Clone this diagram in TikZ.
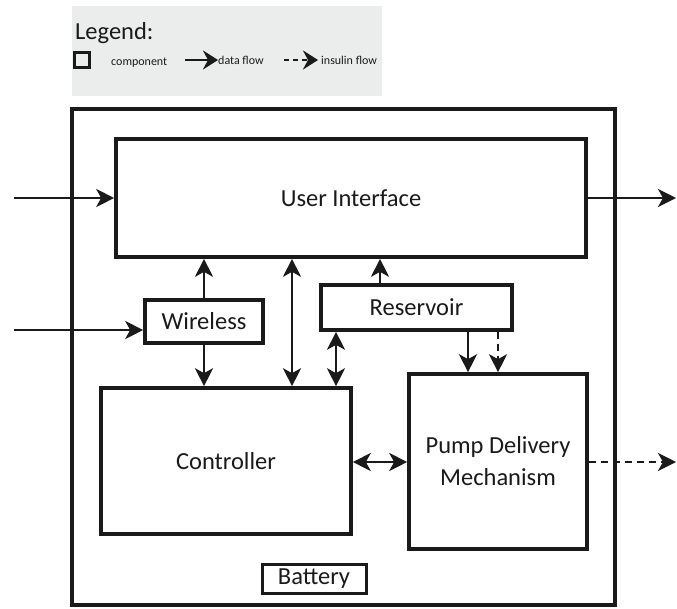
\documentclass[tikz,border=0pt]{standalone}
\usepackage{fontspec}
\setmainfont{Carlito}
\usetikzlibrary{arrows.meta,calc}
\definecolor{legendgray}{RGB}{235,237,237}
\definecolor{ink}{RGB}{26,26,26}
\begin{document}
\begin{tikzpicture}[x=1pt,y=-1pt,
  box/.style={draw=ink, line width=3.6pt, rectangle, inner sep=0pt, fill=white},
  bigtxt/.style={font=\fontsize{24.5}{29}\selectfont, text=ink},
  smalltxt/.style={font=\fontsize{12}{14}\selectfont, text=ink},
  tip/.tip={Stealth[length=18pt,width=18pt,inset=5pt]},
  flow/.style={draw=ink, line width=2.2pt, -tip},
  biflow/.style={draw=ink, line width=2.2pt, tip-tip},
  insflow/.style={flow, dash pattern=on 7pt off 5pt},
  legarrow/.style={draw=ink, line width=2.4pt, -{Stealth[length=15pt,width=19pt,inset=5pt]}}
]
\useasboundingbox (0,0) rectangle (677,608);

% legend
\fill[legendgray] (72,6) rectangle (382,96);
\node[bigtxt, anchor=base west, inner sep=0pt] (legtitle) at (75,39) {Legend:};
\node[draw=ink, line width=2.2pt, minimum width=15pt, minimum height=15pt, inner sep=0pt] (legbox) at (82,60) {};
\node[smalltxt, anchor=base west, inner sep=0pt] (legcomp) at (111,65) {component};
\coordinate (ldstart) at (185,60);
\node[smalltxt, anchor=base west, inner sep=0pt] (legdata) at (218,64) {data flow};
\draw[legarrow] (ldstart) -- (ldstart -| legdata.west);
\coordinate (listart) at (284,60);
\node[smalltxt, anchor=base west, inner sep=0pt] (legins) at (321,64) {insulin flow};
\draw[legarrow, dash pattern=on 5pt off 4pt, shorten >=3pt] (listart) -- (listart -| legins.west);

% outer box
\node[box, line width=3.8pt, fill=none, minimum width=543pt, minimum height=496pt] (outer) at (343.5,357) {};

% components
\node[box, minimum width=470pt, minimum height=118pt,
  label={[bigtxt, anchor=base, inner sep=0pt]center:User Interface}] (ui) at (351,198) {};
\node[box, minimum width=118pt, minimum height=43pt, bigtxt] (wl) at (204,321.5) {Wireless};
\node[box, minimum width=191pt, minimum height=45pt, bigtxt] (res) at (416.5,307.5) {Reservoir};
\node[box, minimum width=250pt, minimum height=146pt,
  label={[bigtxt, anchor=base, inner sep=0pt]center:Controller}] (ctrl) at (226,461) {};
\node[box, minimum width=178pt, minimum height=175pt,
  label={[bigtxt, anchor=base, inner sep=0pt, yshift=14.5pt]center:Pump Delivery},
  label={[bigtxt, anchor=base, inner sep=0pt, yshift=-15.5pt]center:Mechanism}] (pump) at (498,461.5) {};
\node[box, line width=3pt, minimum width=104pt, minimum height=29pt, bigtxt] (bat) at (314,578.5) {Battery};

% free ends and columns
\coordinate (uiin) at (14,198);
\coordinate (uiout) at (676,198);
\coordinate (wlin) at (14,330);
\coordinate (pumpout) at (676,462);
\coordinate (xa) at (292,0);
\coordinate (xb) at (380,0);
\coordinate (xc) at (336,0);
\coordinate (xd) at (468,0);
\coordinate (xe) at (498,0);

% connectors
\draw[flow] (uiin) -- (uiin -| ui.west);
\draw[flow] (ui.east |- uiout) -- (uiout);
\draw[flow] (wlin) -- (wlin -| wl.west);
\draw[flow] (wl.north) -- (wl.north |- ui.south);
\draw[flow] (wl.south) -- (wl.south |- ctrl.north);
\draw[biflow] (ui.south -| xa) -- (ctrl.north -| xa);
\draw[flow] (res.north -| xb) -- (ui.south -| xb);
\draw[biflow] (res.south -| xc) -- (ctrl.north -| xc);
\draw[flow] (res.south -| xd) -- (pump.north -| xd);
\draw[insflow] (res.south -| xe) -- (pump.north -| xe);
\draw[biflow] (ctrl.east |- pumpout) -- (pump.west |- pumpout);
\draw[insflow] (pump.east |- pumpout) -- (pumpout);
\end{tikzpicture}
\end{document}
